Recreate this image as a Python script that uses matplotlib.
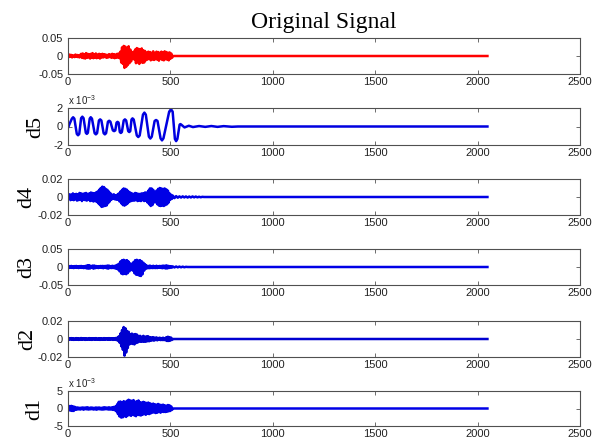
import numpy as np
import matplotlib
matplotlib.use("Agg")
import matplotlib.pyplot as plt

plt.rcParams['font.family'] = ['Liberation Sans', 'DejaVu Sans']
plt.rcParams['mathtext.fontset'] = 'custom'
plt.rcParams['mathtext.rm'] = 'Liberation Sans'
plt.rcParams['mathtext.it'] = 'Liberation Sans:italic'

# ---------------- data ----------------
SIGNAL_LEN = 2048
STEP = 4          # sample spacing of the hand-read values
TAIL_STEP = 8

TITLE = "Original Signal"
PANEL_LABELS = ["", "d5", "d4", "d3", "d2", "d1"]
X_TICKS = [0, 500, 1000, 1500, 2000, 2500]

# Original signal (samples 0..508, step 4)
ORIG = [0.002, -0.003, 0.004, -0.002, 0.003, -0.004, 0.002, 0.001, -0.003, 0.004, -0.002, 0.003, -0.003, 0.002, -0.004, 0.003,
        0.006, -0.005, 0.007, -0.006, 0.004, -0.007, 0.008, -0.005, 0.006, -0.004, 0.005, -0.007, 0.006, -0.005, 0.008, -0.006,
        0.005, -0.004, 0.007, -0.006, 0.004, -0.005, 0.006, -0.007, 0.005, -0.004, 0.006,
        -0.004, 0.005, -0.003, 0.004, -0.005, 0.003, -0.004, 0.005, -0.003, 0.004, -0.005, 0.006, -0.004, 0.005, -0.006, 0.004,
        -0.005, 0.006, -0.004, 0.007, -0.006,
        0.012, -0.018, 0.024, -0.022, 0.028, -0.033, 0.026, -0.030, 0.022, -0.025, 0.027, -0.020, 0.018, -0.015,
        0.010, -0.008, 0.012, -0.010,
        0.018, -0.020, 0.022, -0.018, 0.020, -0.022, 0.019, -0.017, 0.021, -0.019, 0.016, -0.018, 0.014, -0.012,
        0.009, -0.010, 0.012, -0.008, 0.011, -0.012, 0.009, -0.010, 0.013, -0.011, 0.008, -0.009, 0.012, -0.010, 0.011, -0.013,
        0.009, -0.008, 0.012, -0.011, 0.010, -0.012, 0.013, -0.009, 0.011, -0.010, 0.009, -0.012, 0.010, -0.008, 0.007, -0.005]

# d5 (units of 1e-3): sample index and value read along the wave
D5_X = [0, 8, 19, 25, 31, 43, 49, 55, 64, 70, 76, 87, 92, 97, 106, 111, 117, 130, 136, 142, 151, 157, 163,
        174, 180, 186, 195, 201, 207, 219, 225, 231, 237, 242, 247, 253, 258, 263, 272, 278, 284, 294, 299, 304,
        310, 315, 321, 336, 343, 350, 366, 373, 380, 395, 402, 409, 423, 430, 437, 452, 459, 466, 494, 503, 511,
        522, 528, 534, 545, 549, 553, 569, 590, 610, 640, 670, 700, 730, 760, 800, 830]
D5_Y = [-0.15, 0.3, 0.85, 1.0, 0.85, -0.8, -0.95, -0.8, 0.9, 1.06, 0.9, -0.68, -0.8, -0.68, 0.85, 1.0, 0.85,
        -0.72, -0.85, -0.72, 0.65, 0.77, 0.65, -0.72, -0.85, -0.72, 0.52, 0.62, 0.52, -0.42, -0.5, -0.42, 0.42, 0.5,
        0.42, -0.6, -0.7, -0.6, 0.65, 0.77, 0.65, -0.5, -0.6, -0.5, 0.75, 0.88, 0.75, -0.97, -1.14, -0.97,
        1.28, 1.5, 1.28, -1.1, -1.3, -1.1, 0.6, 0.7, 0.6, -1.28, -1.5, -1.28, 1.6, 1.87, 1.6, -1.35, -1.58,
        -1.35, 0.2, 0.26, 0.2, -0.1, 0.08, -0.06, 0.05, -0.04, 0.05, -0.04, 0.04, -0.03, 0.0]

# d4 (samples 0..508, step 4) + tail (step 8)
D4 = [0.001, -0.002, 0.003, -0.0035, 0.0025, -0.003, 0.004, -0.0035, 0.003, -0.0025, 0.0035, -0.004, 0.003, -0.0035,
      0.0045, -0.003, 0.004, -0.0045, 0.0035, -0.003, 0.004, -0.0035, 0.0045, -0.004, 0.0035, -0.003, 0.004, -0.0045,
      0.005, -0.004, 0.0045, -0.005, 0.004, -0.0045, 0.005, -0.0055,
      0.006, -0.007, 0.008, -0.009, 0.010, -0.011, 0.0115, -0.0105, 0.011, -0.010, 0.009, -0.0095, 0.008, -0.007, 0.006,
      -0.005, 0.004,
      -0.003, 0.0025, -0.002, 0.003, -0.0025, 0.002, -0.003, 0.0025, -0.003, 0.004,
      -0.005, 0.006, -0.007, 0.008, -0.009, 0.0095, -0.0096, 0.009, -0.0085, 0.008, -0.007, 0.006, -0.0055, 0.005,
      -0.0045, 0.004,
      -0.004, 0.0035, -0.004, 0.0045, -0.0035, 0.004, -0.0045, 0.0035, -0.004, 0.0035, -0.0045, 0.004, -0.0035, 0.004,
      -0.0045, 0.005, -0.004, 0.005,
      -0.006, 0.007, -0.008, 0.0095, -0.010, 0.0095, -0.009, 0.008,
      -0.006, 0.005, -0.006, 0.007, -0.008,
      0.009, -0.0095, 0.010, -0.010, 0.0095, -0.0095, 0.009, -0.010, 0.0095, -0.009, 0.0085, -0.008, 0.007, -0.006,
      0.004, -0.003, 0.0025, -0.002]
D4_TAIL = [0.0015, -0.0012, 0.001, -0.0008, 0.0007, -0.0006, 0.0007, -0.0005, 0.0006, -0.0006, 0.0005, -0.0005,
           0.0006, -0.0004, 0.0005, -0.0004, 0.0003, -0.0003, 0.0002, 0.0]

# d3 (samples 0..508, step 4) + tail (step 8)
D3 = [0.002, -0.003, 0.0025, -0.002, 0.003, -0.0025, 0.002, -0.003, 0.0025, -0.002, 0.003, -0.0025, 0.002, -0.003,
      0.0025, -0.002, 0.003, -0.0025, 0.002, -0.003,
      0.0025, -0.003, 0.0035, -0.004, 0.005, -0.0045, 0.005, -0.004, 0.003, -0.0025,
      0.004, -0.0045, 0.004, -0.0035, 0.003, -0.0025, 0.002, -0.003, 0.0025, -0.002,
      0.003, -0.0025, 0.003, -0.0035, 0.003, -0.0025, 0.003, -0.0035, 0.004, -0.0045,
      0.004, -0.003, 0.0025, -0.003, 0.0035, -0.003, 0.003, -0.0035, 0.004, -0.005, 0.006, -0.007, 0.009,
      -0.012, 0.015, -0.018, 0.019, -0.020, 0.020, -0.019, 0.018, -0.020, 0.019, -0.017, 0.015, -0.012, 0.010,
      -0.008, 0.009, -0.010,
      0.014, -0.017, 0.019, -0.021, 0.020, -0.022, 0.018, -0.024, 0.019, -0.025, 0.016, -0.020, 0.012, -0.010, 0.008,
      -0.005, 0.004, -0.0035, 0.003, -0.0035, 0.004, -0.003, 0.0025, -0.003, 0.0035, -0.003, 0.0025, -0.003, 0.0035,
      -0.003, 0.0025, -0.002, 0.003, -0.0025, 0.003, -0.0035, 0.004, -0.003, 0.0035, -0.004, 0.0045, -0.004, 0.0035,
      -0.003, 0.0025, -0.002, 0.002, -0.0015]
D3_TAIL = [0.0015, -0.0012, 0.0014, -0.001, 0.0012, -0.0009, 0.001, -0.0008, 0.0005, 0.0]

# d2 (samples 0..508, step 4)
D2 = [0.0008, -0.001, 0.0009, -0.0007, 0.001, -0.0009, 0.0008, -0.001, 0.0007, -0.0009,
      0.001, -0.0008, 0.0009, -0.001, 0.0007, -0.0008, 0.0011, -0.0009, 0.0008, -0.0007,
      0.0009, -0.001, 0.0008, -0.0009, 0.0007, -0.0008, 0.001, -0.0009, 0.0008, -0.001,
      0.0009, -0.0007, 0.0008, -0.0009, 0.001, -0.0008, 0.0007, -0.0009, 0.0008, -0.001,
      0.0009, -0.0008, 0.0007, -0.0009, 0.001, -0.0008, 0.0009, -0.0007, 0.0008, -0.0009,
      0.001, -0.0009, 0.0008, -0.0007, 0.0009, -0.001, 0.0008, -0.0009, 0.0011, -0.0012,
      0.0015, -0.002, 0.003,
      -0.004, 0.006, -0.008, 0.010, -0.012, 0.0133, -0.0185, 0.012, -0.015, 0.009, -0.010, 0.008,
      -0.006, 0.0055, -0.005, 0.006, -0.0055, 0.005, -0.006, 0.0055, -0.0045, 0.005, -0.004, 0.0035,
      -0.003, 0.0035, -0.003, 0.0025, -0.003, 0.0035, -0.003, 0.0025, -0.003, 0.003, -0.0025, 0.003, -0.0025, 0.002,
      -0.002, 0.0018, -0.0015, 0.002, -0.0018, 0.0015, -0.0012, 0.0018, -0.0015, 0.0012, -0.001, 0.0015, -0.0012,
      0.001, -0.0012, 0.0015, -0.0012, 0.001,
      -0.0015, 0.002, -0.0022, 0.0025, -0.0022, 0.002, -0.0018, 0.0015, -0.001]

# d1 (units of 1e-3, samples 0..508, step 4)
D1 = [0.3, -0.5, 0.7, -0.6, 0.75, -0.7, 0.6, -0.7, 0.5, -0.4, 0.3, -0.3,
      0.3, -0.25, 0.2, -0.3, 0.25, -0.2, 0.3, -0.35, 0.25, -0.2,
      0.3, -0.25, 0.35, -0.3, 0.2, -0.25, 0.3, -0.2, 0.25, -0.3,
      0.2, -0.25, 0.3, -0.35, 0.25, -0.2, 0.3, -0.25, 0.2, -0.3,
      0.25, -0.3, 0.35, -0.25, 0.3, -0.2, 0.25, -0.3, 0.35, -0.3,
      0.25, -0.3, 0.35, -0.4, 0.45, -0.5, 0.6, -0.8,
      1.2, -1.6, 1.9, -2.3, 2.0, -2.6, 1.8, -2.5, 2.1, -2.2, 1.9, -2.4, 2.2, -2.0, 2.5, -1.9, 2.3, -2.1, 2.2, -1.8,
      2.4, -2.0, 1.9, -2.2, 2.1, -1.7, 2.3, -1.9, 1.8, -2.0, 1.7, -1.8, 1.9, -1.6, 1.7, -1.8, 1.6, -1.5, 1.7, -1.6,
      1.5, -1.4,
      1.3, -1.2, 1.4, -1.1, 1.2, -1.3, 1.1, -1.2, 1.3, -1.0, 1.1, -1.2, 1.0, -0.9, 1.1, -1.0, 0.9, -1.0, 0.8, -0.9,
      1.0, -0.8, 0.9, -0.7, 0.6, -0.4]

Y_LIMS = [0.05, 2, 0.02, 0.05, 0.02, 5]
Y_TICKLABELS = [["-0.05", "0", "0.05"], ["-2", "0", "2"], ["-0.02", "0", "0.02"],
                ["-0.05", "0", "0.05"], ["-0.02", "0", "0.02"], ["-5", "0", "5"]]
EXPONENT_NOTE = ["", "x 10$^{-3}$", "", "", "", "x 10$^{-3}$"]


def stepped(vals, step, tail=None, tail_step=TAIL_STEP):
    x = list(np.arange(len(vals)) * step)
    y = list(vals)
    start = len(vals) * step
    if tail:
        x += list(start + np.arange(len(tail)) * tail_step)
        y += list(tail)
        start = start + len(tail) * tail_step
    x += [start, SIGNAL_LEN]
    y += [0.0, 0.0]
    return np.array(x), np.array(y)


series = [
    stepped(ORIG, STEP),
    (np.array(D5_X + [SIGNAL_LEN]), np.array(D5_Y + [0.0])),
    stepped(D4, STEP, D4_TAIL),
    stepped(D3, STEP, D3_TAIL),
    stepped(D2, STEP),
    stepped(D1, STEP),
]
colors = ['#ff0000', '#0000e0', '#0000e6', '#0000e6', '#0000d0', '#0000e6']

# ---------------- layout ----------------
W, H = 593, 443
fig = plt.figure(figsize=(W / 100, H / 100), dpi=100)
ax_left, ax_right = 68, 580
panel_px = [(38, 74), (108, 145), (179, 215), (249, 285), (321, 357), (391, 426)]
label_x = [None, -0.045, -0.062, -0.062, -0.060, -0.046]

for i, ((top, bot), (x, y)) in enumerate(zip(panel_px, series)):
    ax = fig.add_axes([ax_left / W, 1 - bot / H, (ax_right - ax_left) / W, (bot - top) / H])
    ax.plot(x, y, color=colors[i], lw=1.8, solid_joinstyle='round')
    ax.set_xlim(0, 2500)
    ax.set_ylim(-Y_LIMS[i], Y_LIMS[i])
    ax.set_xticks(X_TICKS)
    ax.set_xticklabels([str(t) for t in X_TICKS])
    ax.set_yticks([-Y_LIMS[i], 0, Y_LIMS[i]])
    ax.set_yticklabels(Y_TICKLABELS[i])
    ax.tick_params(direction='in', top=True, right=True, length=3, width=0.6,
                   labelsize=8, colors='#555555', labelcolor='#222222')
    ax.tick_params(axis='x', pad=2.5)
    ax.tick_params(axis='y', pad=3.5)
    for s in ax.spines.values():
        s.set_color('#505050')
        s.set_linewidth(0.8)
    if PANEL_LABELS[i]:
        ax.set_ylabel(PANEL_LABELS[i], family=['Liberation Serif', 'DejaVu Serif'], fontsize=16)
        ax.yaxis.set_label_coords(label_x[i], 0.5)
    if EXPONENT_NOTE[i]:
        ax.text(0.0, 1.03, EXPONENT_NOTE[i], transform=ax.transAxes, ha='left', va='bottom',
                fontsize=7, color='#222222')
    if i == 0:
        ax.set_title(TITLE, family=['Liberation Serif', 'DejaVu Serif'], fontsize=17, pad=7)

fig.savefig("out.png", dpi=100)
